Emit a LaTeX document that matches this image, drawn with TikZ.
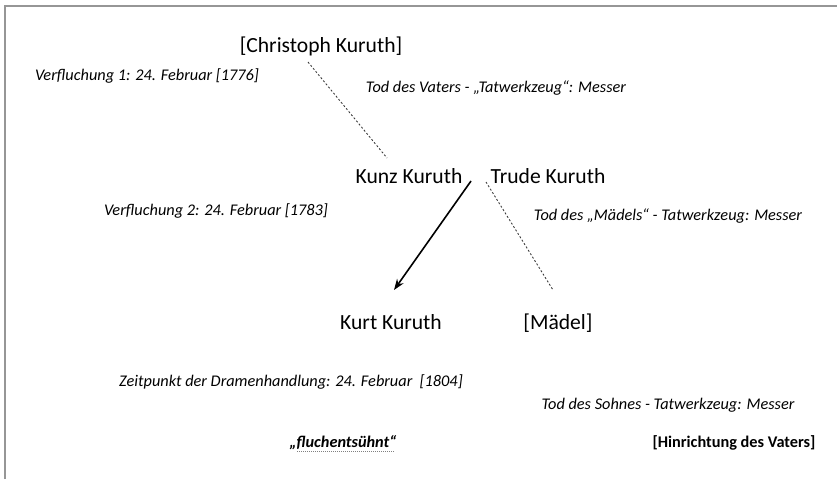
\documentclass[tikz,border=0pt]{standalone}
\usepackage{fontspec}
\setmainfont{Carlito}
\usetikzlibrary{arrows.meta,calc}
\definecolor{framegray}{RGB}{150,150,150}
\definecolor{linegray}{RGB}{60,60,60}
\tikzset{
  big/.style={font=\fontsize{21.6}{26}\selectfont, inner sep=0pt, text height=0.62em, text depth=0.18em},
  small/.style={font=\fontsize{16.3}{19}\selectfont\itshape, inner sep=0pt, text height=0.62em, text depth=0.18em},
  smallbold/.style={font=\fontsize{16.3}{19}\selectfont\bfseries, inner sep=0pt, text height=0.62em, text depth=0.18em},
  smallbi/.style={font=\fontsize{16.3}{19}\selectfont\bfseries\itshape, inner sep=0pt, text height=0.62em, text depth=0.18em},
  dotline/.style={draw=linegray, line width=0.9pt, dash pattern=on 2pt off 2pt},
  arrowline/.style={draw=black, line width=1.6pt, -{Stealth[length=11pt,width=8pt]}},
}
\begin{document}
\begin{tikzpicture}[x=1pt,y=-1pt]
\useasboundingbox (0,0) rectangle (837,479);
\draw[framegray, line width=1.3pt] (5,479) -- (5,6) -- (837,6);

\node[big] (christoph) at (321,50) {[Christoph Kuruth]};
\node[small] (v1) at (147,78) {Verfluchung 1: 24. Februar [1776]};
\node[small] (tv) at (496,90) {Tod des Vaters - „Tatwerkzeug“: Messer};
\node[big] (kunz) at (409,181) {Kunz Kuruth};
\node[big] (trude) at (548,181) {Trude Kuruth};
\node[small] (v2) at (216,213) {Verfluchung 2: 24. Februar [1783]};
\node[small] (tm) at (668,218) {Tod des „Mädels“ - Tatwerkzeug: Messer};
\node[big] (kurt) at (391,327) {Kurt Kuruth};
\node[big] (maedel) at (558,327) {[Mädel]};
\node[small] (zp) at (291,384) {Zeitpunkt der Dramenhandlung: 24. Februar\ \ [1804]};
\node[small] (ts) at (668,407) {Tod des Sohnes - Tatwerkzeug: Messer};
\node[smallbi] (fl) at (343,445) {„fluchentsühnt“};
\node[smallbold] (hv) at (734,445) {[Hinrichtung des Vaters]};

\coordinate (a1) at (308,62);
\coordinate (a2) at (387,158);
\coordinate (b1) at (486,182);
\coordinate (b2) at (553,290);
\coordinate (c1) at (471,181);
\coordinate (c2) at (394,290);
\coordinate (u1) at ($(fl.south west)+(8,2)$);
\coordinate (u2) at ($(fl.south east)+(-3,2)$);

\draw[dotline] (a1) -- (a2);
\draw[dotline] (b1) -- (b2);
\draw[arrowline] (c1) -- (c2);
\draw[draw=gray, line width=1pt, dash pattern=on 1pt off 1pt] (u1) -- (u2);
\end{tikzpicture}
\end{document}
